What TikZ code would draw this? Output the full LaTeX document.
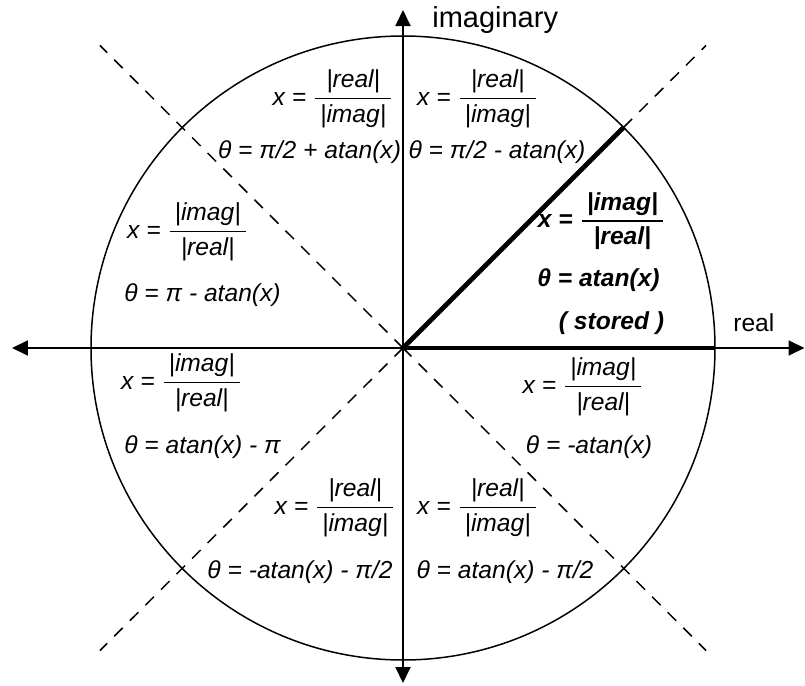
\documentclass[tikz,border=0pt]{standalone}
\usepackage{amsmath}
\usepackage{fontspec}
\setmainfont{Liberation Sans}
\usetikzlibrary{arrows.meta}

\newcommand{\frc}[2]{$\genfrac{}{}{0.6pt}{0}{\kern0.1cm\text{#1}\kern0.1cm}{\kern0.1cm\text{#2}\kern0.1cm}$}
\newcommand{\frcb}[2]{$\genfrac{}{}{0.9pt}{0}{\kern0.1cm\text{#1}\kern0.1cm}{\kern0.1cm\text{#2}\kern0.1cm}$}

\begin{document}
\begin{tikzpicture}[
  axis/.style={line width=1.1pt, {Triangle[length=0.32cm, width=0.3cm]}-{Triangle[length=0.32cm, width=0.3cm]}},
  ring/.style={line width=0.85pt},
  ray/.style={line width=2.8pt},
  split/.style={line width=0.85pt, dash pattern=on 0.24cm off 0.2cm},
  eq/.style={font=\fontsize{14}{17}\selectfont\itshape, inner sep=0pt},
  eqb/.style={font=\fontsize{14}{17}\selectfont\bfseries\itshape, inner sep=0pt},
  lab/.style={font=\fontsize{14}{17}\selectfont, inner sep=0pt, anchor=west},
]
\useasboundingbox (-8.06,-6.74) rectangle (8.04,6.96);

\coordinate (O) at (0,0);
\coordinate (west) at (-7.82,0);
\coordinate (east) at (8.03,0);
\coordinate (north) at (0,6.76);
\coordinate (south) at (0,-6.70);
\coordinate (rimE) at (6.24,0);
\coordinate (rimNE) at (45:6.24);
\coordinate (ne) at (6.06,6.05);
\coordinate (nw) at (-6.06,6.05);
\coordinate (sw) at (-6.06,-6.05);
\coordinate (se) at (6.06,-6.05);

% circle and octant borders
\draw[ring] (O) circle (6.24);
\draw[split] (O) -- (nw);
\draw[split] (O) -- (sw);
\draw[split] (O) -- (se);
\draw[split] (rimNE) -- (ne);

% axes
\draw[axis] (west) -- (east);
\draw[axis] (south) -- (north);
\node[lab, font=\fontsize{16.5}{19}\selectfont] (imlab) at (0.58,6.55) {imaginary};
\node[lab] (relab) at (6.60,0.50) {real};

% stored vector
\draw[ray] (O) -- (rimE);
\draw[ray] (O) -- (rimNE);

% octant 1 (stored)
\node[eqb] (oct1frac) at (3.97,2.54) {x = \frcb{|imag|}{|real|}};
\node[eqb] (oct1ang) at (3.91,1.36) {θ = atan(x)};
\node[eqb] (oct1note) at (4.17,0.50) {( stored )};

% octant 2
\node[eq] (oct2frac) at (1.49,4.98) {x = \frc{|real|}{|imag|}};
\node[eq] (oct2ang) at (1.88,3.92) {θ = π/2 - atan(x)};

% octant 3
\node[eq] (oct3frac) at (-1.40,4.98) {x = \frc{|real|}{|imag|}};
\node[eq] (oct3ang) at (-1.87,3.92) {θ = π/2 + atan(x)};

% octant 4
\node[eq] (oct4frac) at (-4.31,2.32) {x = \frc{|imag|}{|real|}};
\node[eq] (oct4ang) at (-4.01,1.06) {θ = π - atan(x)};

% octant 5
\node[eq] (oct5frac) at (-4.43,-0.70) {x = \frc{|imag|}{|real|}};
\node[eq] (oct5ang) at (-4.01,-1.98) {θ = atan(x) - π};

% octant 6
\node[eq] (oct6frac) at (-1.36,-3.20) {x = \frc{|real|}{|imag|}};
\node[eq] (oct6ang) at (-2.06,-4.48) {θ = -atan(x) - π/2};

% octant 7
\node[eq] (oct7frac) at (1.49,-3.20) {x = \frc{|real|}{|imag|}};
\node[eq] (oct7ang) at (2.04,-4.48) {θ = atan(x) - π/2};

% octant 8
\node[eq] (oct8frac) at (3.60,-0.78) {x = \frc{|imag|}{|real|}};
\node[eq] (oct8ang) at (3.72,-1.98) {θ = -atan(x)};
\end{tikzpicture}
\end{document}
